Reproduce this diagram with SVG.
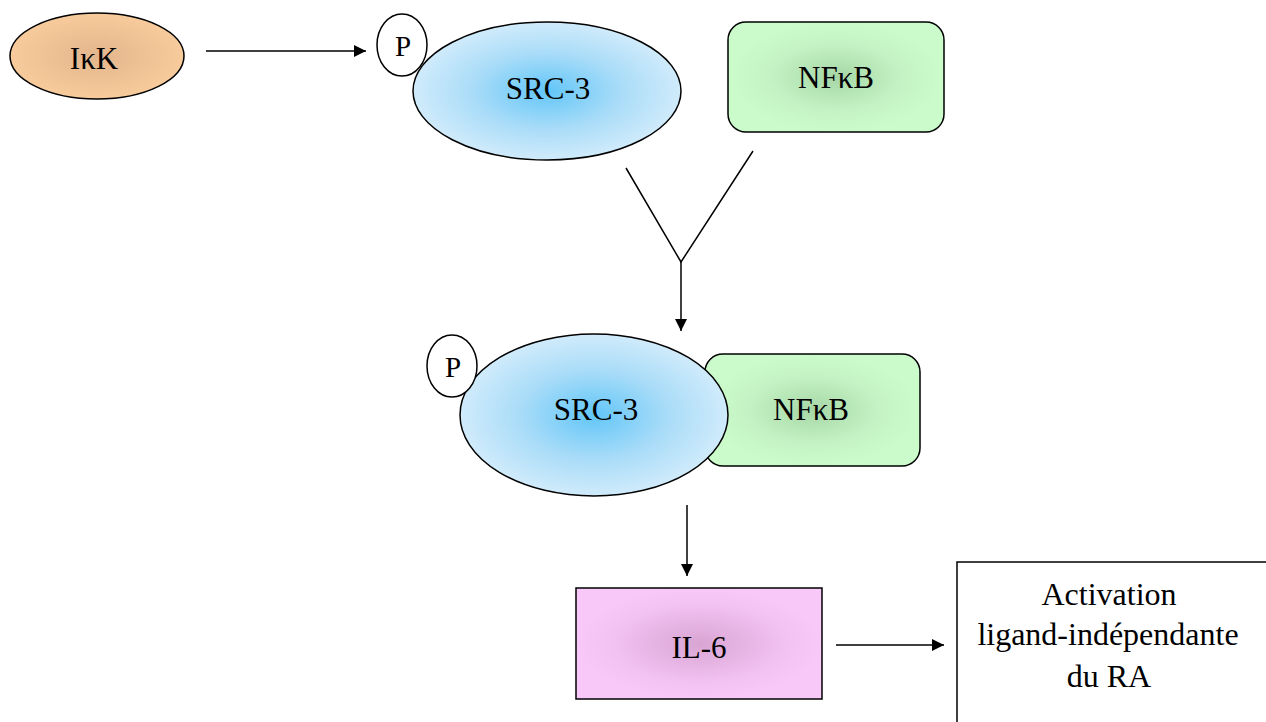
<svg xmlns="http://www.w3.org/2000/svg" width="1266" height="722" viewBox="0 0 1266 722">
  <defs>
    <radialGradient id="gIkk" cx="50%" cy="50%" r="50%">
      <stop offset="0" stop-color="#e3b58c"/>
      <stop offset="1" stop-color="#f8cb9c"/>
    </radialGradient>
    <radialGradient id="gSrc" cx="50%" cy="50%" r="50%">
      <stop offset="0" stop-color="#62c6f8"/>
      <stop offset="0.55" stop-color="#a9dcf8"/>
      <stop offset="1" stop-color="#d0ebfb"/>
    </radialGradient>
    <radialGradient id="gNf" cx="50%" cy="50%" r="50%">
      <stop offset="0" stop-color="#a6d6a6"/>
      <stop offset="0.6" stop-color="#c4f2c4"/>
      <stop offset="1" stop-color="#cbfbcb"/>
    </radialGradient>
    <radialGradient id="gIl" cx="50%" cy="50%" r="50%">
      <stop offset="0" stop-color="#d9a5d3"/>
      <stop offset="0.7" stop-color="#f2c2f2"/>
      <stop offset="1" stop-color="#f8c8f8"/>
    </radialGradient>
    <marker id="arrowBig" viewBox="0 0 10 10" refX="10" refY="5" markerWidth="14" markerHeight="12" markerUnits="userSpaceOnUse" orient="auto">
      <path d="M0,0 L10,5 L0,10 z" fill="#000"/>
    </marker>
  </defs>
  <style>
    .shape { stroke: #000; stroke-width: 1.5; }
    .label { font-size: 31px; fill: #000; text-anchor: middle; }
    .small { font-size: 29px; }
    .big { font-size: 32px; }
    .link { stroke: #000; stroke-width: 1.5; fill: none; }
  </style>

  <rect width="1266" height="722" fill="#fff"/>

  <g font-family="'Liberation Serif', 'Times New Roman', serif">
  <!-- IkB kinase -->
  <g id="ikk">
    <ellipse class="shape" cx="97" cy="56" rx="87" ry="43" fill="url(#gIkk)"/>
    <text class="label" x="94" y="69">IκK</text>
  </g>

  <!-- SRC-3 (phosphorylated), top -->
  <g id="src3-top">
    <ellipse class="shape" cx="547" cy="91" rx="134" ry="69" fill="url(#gSrc)"/>
    <text class="label" x="548" y="99">SRC-3</text>
  </g>
  <g id="p-top">
    <ellipse class="shape" cx="402" cy="45" rx="25" ry="31" fill="#fff"/>
    <text class="label small" x="403" y="56">P</text>
  </g>

  <!-- NF-kB, top -->
  <g id="nfkb-top">
    <rect class="shape" x="728" y="22" width="216" height="110" rx="18" fill="url(#gNf)"/>
    <text class="label" x="836" y="88">NFκB</text>
  </g>

  <!-- SRC-3 / NF-kB complex -->
  <g id="nfkb-complex">
    <rect class="shape" x="705" y="354" width="215" height="112" rx="18" fill="url(#gNf)"/>
    <text class="label" x="811" y="420">NFκB</text>
  </g>
  <g id="src3-complex">
    <ellipse class="shape" cx="594" cy="415" rx="134" ry="81" fill="url(#gSrc)"/>
    <text class="label" x="596" y="420">SRC-3</text>
  </g>
  <g id="p-complex">
    <ellipse class="shape" cx="452" cy="366" rx="25" ry="31" fill="#fff"/>
    <text class="label small" x="453" y="377">P</text>
  </g>

  <!-- IL-6 -->
  <g id="il6">
    <rect class="shape" x="576" y="588" width="246" height="111" fill="url(#gIl)"/>
    <text class="label" x="699" y="658">IL-6</text>
  </g>

  <!-- Outcome -->
  <g id="outcome">
    <rect class="shape" x="957" y="562" width="320" height="180" fill="#fff"/>
    <text class="label big" x="1109" y="605">Activation</text>
    <text class="label big" x="1108" y="645">ligand-indépendante</text>
    <text class="label big" x="1109" y="687">du RA</text>
  </g>
  </g>

  <!-- Connectors -->
  <g id="connectors">
    <line class="link" x1="206" y1="51" x2="366" y2="51" marker-end="url(#arrowBig)"/>
    <polyline class="link" points="626,168 681,262 753,151"/>
    <line class="link" x1="681" y1="262" x2="681" y2="331" marker-end="url(#arrowBig)"/>
    <line class="link" x1="687" y1="505" x2="687" y2="576" marker-end="url(#arrowBig)"/>
    <line class="link" x1="836" y1="645" x2="944" y2="645" marker-end="url(#arrowBig)"/>
  </g>
</svg>
